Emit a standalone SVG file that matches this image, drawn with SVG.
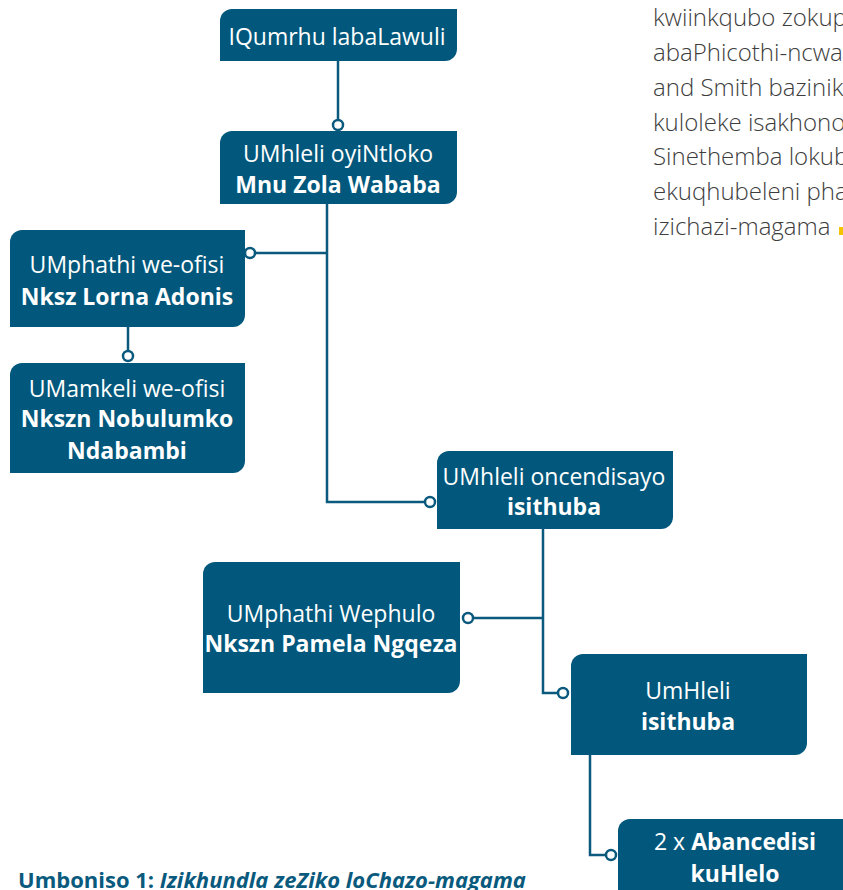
<svg xmlns="http://www.w3.org/2000/svg" width="843" height="890" viewBox="0 0 843 890">
<style>
.box{fill:#02587c}
.t{font-family:"Open Sans","Noto Sans",sans-serif;font-size:23px;fill:#ffffff;text-anchor:middle}
.b{font-weight:700}
.con{fill:none;stroke:#0b5a7e;stroke-width:2.5}
.dot{fill:#ffffff;stroke:#0b5a7e;stroke-width:2.5}
.para{font-family:"Open Sans","Noto Sans",sans-serif;font-size:24px;fill:#3d3d3d;font-weight:300}
.cap{font-family:"Open Sans","Noto Sans",sans-serif;font-size:22px;fill:#0a5a7e;font-weight:700}
</style>
<rect width="843" height="890" fill="#ffffff"/>
<g id="paragraph">
<text class="para" x="653" y="26">kwiinkqubo zokup</text>
<text class="para" x="653" y="61">abaPhicothi-ncwa</text>
<text class="para" x="653" y="96">and Smith bazinik</text>
<text class="para" x="653" y="131">kuloleke isakhono</text>
<text class="para" x="653" y="165">Sinethemba lokub</text>
<text class="para" x="653" y="200">ekuqhubeleni pha</text>
<text class="para" x="653" y="235">izichazi-magama</text>
<rect x="839" y="227" width="5" height="8" fill="#f5c400"/>
</g>
<g id="connectors">
<path class="con" d="M338 61V120"/>
<circle class="dot" cx="338" cy="125" r="5"/>
<path class="con" d="M327 204V502H425"/>
<path class="con" d="M327 253H255"/>
<circle class="dot" cx="250" cy="253" r="5"/>
<circle class="dot" cx="430" cy="502" r="5"/>
<path class="con" d="M128 327V351"/>
<circle class="dot" cx="128" cy="356" r="5"/>
<path class="con" d="M543 529V693H558"/>
<path class="con" d="M543 618H473"/>
<circle class="dot" cx="468" cy="618" r="5"/>
<circle class="dot" cx="563" cy="693" r="5"/>
<path class="con" d="M590 755V855H606"/>
<circle class="dot" cx="611" cy="855" r="5"/>
</g>
<g id="n1">
<path class="box" d="M220 21A12 12 0 0 1 232 9H457V49A12 12 0 0 1 445 61H220Z"/>
<text class="t" x="337" y="45">IQumrhu labaLawuli</text>
</g>
<g id="n2">
<path class="box" d="M220 143A12 12 0 0 1 232 131H457V192A12 12 0 0 1 445 204H220Z"/>
<text class="t" x="338" y="162">UMhleli oyiNtloko</text>
<text class="t b" x="338" y="193">Mnu Zola Wababa</text>
</g>
<g id="n3">
<path class="box" d="M10 242A12 12 0 0 1 22 230H245V315A12 12 0 0 1 233 327H10Z"/>
<text class="t" x="127" y="273">UMphathi we-ofisi</text>
<text class="t b" x="127" y="305">Nksz Lorna Adonis</text>
</g>
<g id="n4">
<path class="box" d="M10 375A12 12 0 0 1 22 363H245V461A12 12 0 0 1 233 473H10Z"/>
<text class="t" x="127" y="397">UMamkeli we-ofisi</text>
<text class="t b" x="127" y="427">Nkszn Nobulumko</text>
<text class="t b" x="127" y="459">Ndabambi</text>
</g>
<g id="n5">
<path class="box" d="M437 463A12 12 0 0 1 449 451H673V517A12 12 0 0 1 661 529H437Z"/>
<text class="t" x="554" y="485">UMhleli oncendisayo</text>
<text class="t b" x="554" y="515">isithuba</text>
</g>
<g id="n6">
<path class="box" d="M203 574A12 12 0 0 1 215 562H460V681A12 12 0 0 1 448 693H203Z"/>
<text class="t" x="331" y="622">UMphathi Wephulo</text>
<text class="t b" x="331" y="652">Nkszn Pamela Ngqeza</text>
</g>
<g id="n7">
<path class="box" d="M571 666A12 12 0 0 1 583 654H807V743A12 12 0 0 1 795 755H571Z"/>
<text class="t" x="688" y="699">UmHleli</text>
<text class="t b" x="688" y="730">isithuba</text>
</g>
<g id="n8">
<path class="box" d="M618 831A12 12 0 0 1 630 819H860V920H618Z"/>
<text class="t" x="735" y="850">2 x <tspan class="b">Abancedisi</tspan></text>
<text class="t b" x="735" y="882">kuHlelo</text>
</g>
<g id="caption">
<text class="cap" x="18" y="888">Umboniso 1:  <tspan font-style="italic">Izikhundla zeZiko loChazo-magama</tspan></text>
</g>
</svg>
